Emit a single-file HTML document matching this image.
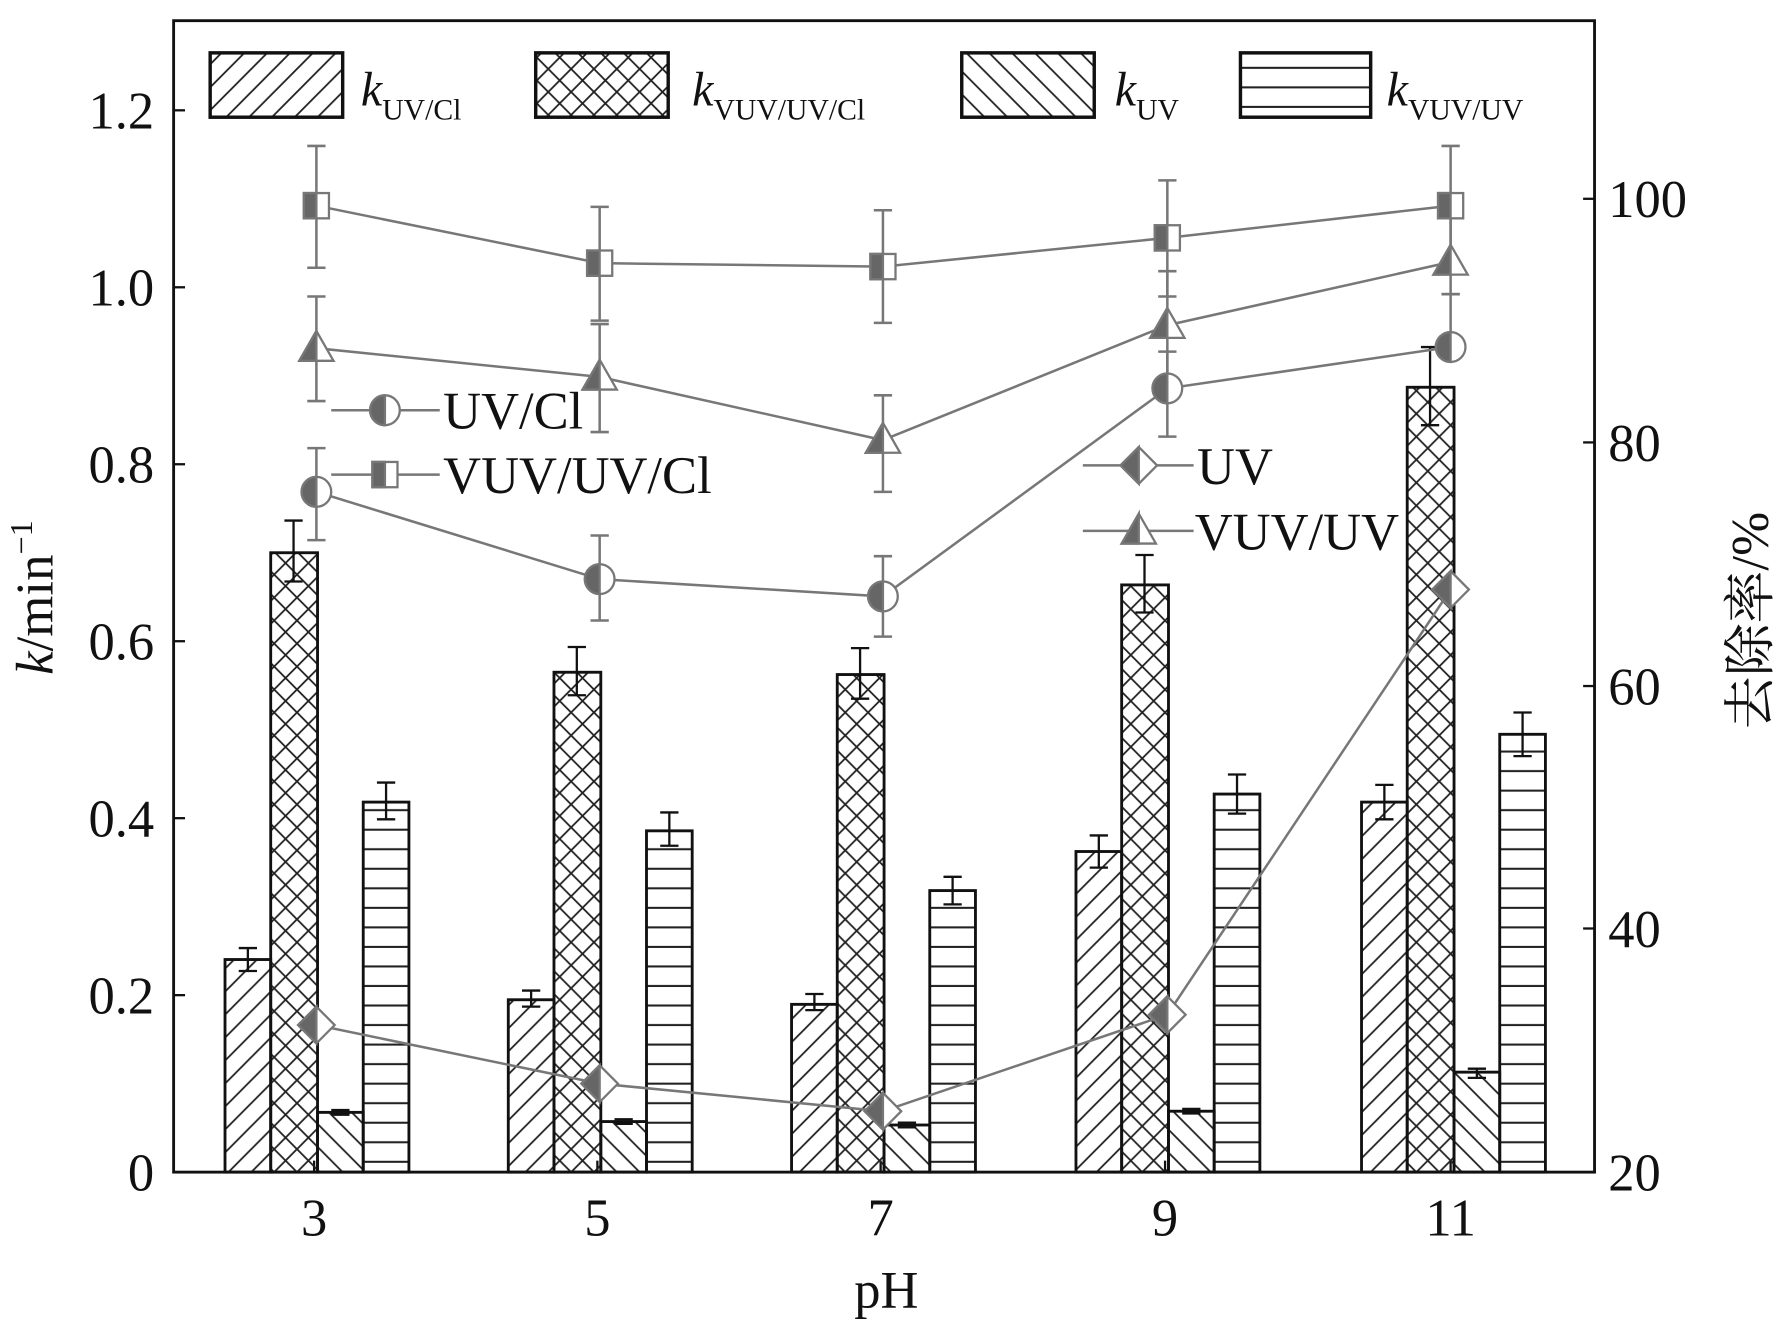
<!DOCTYPE html>
<html><head><meta charset="utf-8"><style>html,body{margin:0;padding:0;background:#fff;overflow:hidden}svg{display:block}</style></head>
<body>
<svg width="1791" height="1333" viewBox="0 0 1568 1160" preserveAspectRatio="none" xmlns="http://www.w3.org/2000/svg" font-family="Liberation Serif, serif">
<defs>
<pattern id="fw" patternUnits="userSpaceOnUse" width="20" height="20"><path d="M-5,25 L25,-5 M-5,5 L5,-5 M15,25 L25,15" stroke="#222" stroke-width="1.6"/></pattern>
<pattern id="bw" patternUnits="userSpaceOnUse" width="20" height="20"><path d="M-5,-5 L25,25 M-5,15 L5,25 M15,-5 L25,5" stroke="#222" stroke-width="1.6"/></pattern>
<pattern id="xx" patternUnits="userSpaceOnUse" width="20" height="20"><path d="M-5,25 L25,-5 M-5,-5 L25,25 M-5,5 L5,-5 M15,25 L25,15 M-5,15 L5,25 M15,-5 L25,5" stroke="#222" stroke-width="1.6"/></pattern>
<pattern id="hz" patternUnits="userSpaceOnUse" width="20" height="17"><path d="M0,8 L20,8" stroke="#222" stroke-width="1.8"/></pattern>
</defs>
<rect x="152" y="18" width="1244" height="1002" fill="none" stroke="#111" stroke-width="2.5"/>
<g stroke="#111" stroke-width="2">
<line x1="152" y1="866" x2="162" y2="866"/><line x1="152" y1="712" x2="162" y2="712"/><line x1="152" y1="558" x2="162" y2="558"/><line x1="152" y1="404" x2="162" y2="404"/><line x1="152" y1="250" x2="162" y2="250"/><line x1="152" y1="96" x2="162" y2="96"/>
<line x1="1386" y1="808" x2="1396" y2="808"/><line x1="1386" y1="597" x2="1396" y2="597"/><line x1="1386" y1="385" x2="1396" y2="385"/><line x1="1386" y1="173" x2="1396" y2="173"/>
<line x1="275" y1="1020" x2="275" y2="1010"/><line x1="523" y1="1020" x2="523" y2="1010"/><line x1="771" y1="1020" x2="771" y2="1010"/><line x1="1020" y1="1020" x2="1020" y2="1010"/><line x1="1270" y1="1020" x2="1270" y2="1010"/>
</g>
<g font-size="46" fill="#111" text-anchor="end">
<text x="135" y="1036">0</text><text x="135" y="882">0.2</text><text x="135" y="728">0.4</text><text x="135" y="574">0.6</text><text x="135" y="420">0.8</text><text x="135" y="266">1.0</text><text x="135" y="112">1.2</text>
</g>
<g font-size="46" fill="#111" text-anchor="start">
<text x="1408" y="1036">20</text><text x="1408" y="824">40</text><text x="1408" y="613">60</text><text x="1408" y="401">80</text><text x="1408" y="189">100</text>
</g>
<g font-size="46" fill="#111" text-anchor="middle">
<text x="275" y="1075">3</text><text x="523" y="1075">5</text><text x="771" y="1075">7</text><text x="1020" y="1075">9</text><text x="1270" y="1075">11</text>
<text x="776" y="1138">pH</text>
</g>
<text transform="translate(46,520) rotate(-90)" font-size="46" text-anchor="middle" fill="#111"><tspan font-style="italic">k</tspan>/min<tspan font-size="28" dy="-18">−1</tspan></text>
<text transform="translate(1548,540) rotate(-90)" font-size="46" text-anchor="middle" fill="#111" font-family="Liberation Serif, Noto Serif CJK SC, serif">去除率/%</text>
<!-- bars -->
<g stroke="#111" stroke-width="2.5">
<rect x="197" y="835" width="40" height="185" fill="url(#fw)"/><rect x="237" y="481" width="41" height="539" fill="url(#xx)"/><rect x="278" y="968" width="40" height="52" fill="url(#bw)"/><rect x="318" y="698" width="40" height="322" fill="url(#hz)"/>
<rect x="445" y="870" width="40" height="150" fill="url(#fw)"/><rect x="485" y="585" width="41" height="435" fill="url(#xx)"/><rect x="526" y="976" width="40" height="44" fill="url(#bw)"/><rect x="566" y="723" width="40" height="297" fill="url(#hz)"/>
<rect x="693" y="874" width="40" height="146" fill="url(#fw)"/><rect x="733" y="587" width="41" height="433" fill="url(#xx)"/><rect x="774" y="979" width="40" height="41" fill="url(#bw)"/><rect x="814" y="775" width="40" height="245" fill="url(#hz)"/>
<rect x="942" y="741" width="40" height="279" fill="url(#fw)"/><rect x="982" y="509" width="41" height="511" fill="url(#xx)"/><rect x="1023" y="967" width="40" height="53" fill="url(#bw)"/><rect x="1063" y="691" width="40" height="329" fill="url(#hz)"/>
<rect x="1192" y="698" width="40" height="322" fill="url(#fw)"/><rect x="1232" y="337" width="41" height="683" fill="url(#xx)"/><rect x="1273" y="933" width="40" height="87" fill="url(#bw)"/><rect x="1313" y="639" width="40" height="381" fill="url(#hz)"/>
</g>
<g stroke="#111" stroke-width="2" fill="none">
<path d="M217,825v20M209,825h16M209,845h16"/><path d="M257,453v53M249,453h16M249,506h16"/><path d="M338,681v32M330,681h16M330,713h16"/><path d="M290,966h16M290,970h16"/>
<path d="M465,862v14M457,862h16M457,876h16"/><path d="M505,563v42M497,563h16M497,605h16"/><path d="M586,707v29M578,707h16M578,736h16"/><path d="M538,974h16M538,978h16"/>
<path d="M713,865v14M705,865h16M705,879h16"/><path d="M753,564v44M745,564h16M745,608h16"/><path d="M834,763v24M826,763h16M826,787h16"/><path d="M786,977h16M786,981h16"/>
<path d="M962,727v28M954,727h16M954,755h16"/><path d="M1002,483v50M994,483h16M994,533h16"/><path d="M1083,674v34M1075,674h16M1075,708h16"/><path d="M1035,965h16M1035,969h16"/>
<path d="M1212,683v30M1204,683h16M1204,713h16"/><path d="M1252,302v68M1244,302h16M1244,370h16"/><path d="M1293,930v8M1285,930h16M1285,938h16"/><path d="M1333,620v38M1325,620h16M1325,658h16"/>
</g>
<!-- lines -->
<g stroke="#777" stroke-width="2.2" fill="none">
<polyline points="277,179 525,229 773,232 1022,207 1270,179"/>
<polyline points="277,303 525,328 773,383 1022,283 1270,228"/>
<polyline points="277,428 525,504 773,519 1022,338 1270,302"/>
<polyline points="277,892 525,943 773,967 1022,883 1270,513"/>
<path d="M277,127v106M269,127h16M269,233h16 M525,180v99M517,180h16M517,279h16 M773,183v98M765,183h16M765,281h16 M1022,157v101M1014,157h16M1014,258h16 M1270,127v105M1262,127h16M1262,232h16"/>
<path d="M277,258v91M269,258h16M269,349h16 M525,282v94M517,282h16M517,376h16 M773,344v84M765,344h16M765,428h16 M1022,236v95M1014,236h16M1014,331h16 M1270,172v84M1262,172h16M1262,256h16"/>
<path d="M277,390v80M269,390h16M269,470h16 M525,466v74M517,466h16M517,540h16 M773,484v70M765,484h16M765,554h16 M1022,306v74M1014,306h16M1014,380h16 M1270,256v50M1262,256h16M1262,306h16"/>
<path d="M290,357h95M290,413h95M948,405h97M948,462h97"/>
</g>
<g stroke="#777" stroke-width="2">
<g transform="translate(277,179)"><rect x="-11" y="-11" width="22" height="22" fill="#fff"/><path d="M-11,-11h11v22h-11z" fill="#666"/></g>
<g transform="translate(525,229)"><rect x="-11" y="-11" width="22" height="22" fill="#fff"/><path d="M-11,-11h11v22h-11z" fill="#666"/></g>
<g transform="translate(773,232)"><rect x="-11" y="-11" width="22" height="22" fill="#fff"/><path d="M-11,-11h11v22h-11z" fill="#666"/></g>
<g transform="translate(1022,207)"><rect x="-11" y="-11" width="22" height="22" fill="#fff"/><path d="M-11,-11h11v22h-11z" fill="#666"/></g>
<g transform="translate(1270,179)"><rect x="-11" y="-11" width="22" height="22" fill="#fff"/><path d="M-11,-11h11v22h-11z" fill="#666"/></g>
<g transform="translate(337,413)"><rect x="-11" y="-11" width="22" height="22" fill="#fff"/><path d="M-11,-11h11v22h-11z" fill="#666"/></g>
<!-- triangles -->
<g transform="translate(277,303)"><path d="M0,-15L15,11H-15Z" fill="#fff"/><path d="M0,-15L-15,11L0,11Z" fill="#666"/></g>
<g transform="translate(525,328)"><path d="M0,-15L15,11H-15Z" fill="#fff"/><path d="M0,-15L-15,11L0,11Z" fill="#666"/></g>
<g transform="translate(773,383)"><path d="M0,-15L15,11H-15Z" fill="#fff"/><path d="M0,-15L-15,11L0,11Z" fill="#666"/></g>
<g transform="translate(1022,283)"><path d="M0,-15L15,11H-15Z" fill="#fff"/><path d="M0,-15L-15,11L0,11Z" fill="#666"/></g>
<g transform="translate(1270,228)"><path d="M0,-15L15,11H-15Z" fill="#fff"/><path d="M0,-15L-15,11L0,11Z" fill="#666"/></g>
<g transform="translate(997,462)"><path d="M0,-15L15,11H-15Z" fill="#fff"/><path d="M0,-15L-15,11L0,11Z" fill="#666"/></g>
<!-- circles -->
<g transform="translate(277,428)"><circle r="13" fill="#fff"/><path d="M0,-13A13,13 0 0 0 0,13Z" fill="#666"/></g>
<g transform="translate(525,504)"><circle r="13" fill="#fff"/><path d="M0,-13A13,13 0 0 0 0,13Z" fill="#666"/></g>
<g transform="translate(773,519)"><circle r="13" fill="#fff"/><path d="M0,-13A13,13 0 0 0 0,13Z" fill="#666"/></g>
<g transform="translate(1022,338)"><circle r="13" fill="#fff"/><path d="M0,-13A13,13 0 0 0 0,13Z" fill="#666"/></g>
<g transform="translate(1270,302)"><circle r="13" fill="#fff"/><path d="M0,-13A13,13 0 0 0 0,13Z" fill="#666"/></g>
<g transform="translate(337,357)"><circle r="13" fill="#fff"/><path d="M0,-13A13,13 0 0 0 0,13Z" fill="#666"/></g>
<!-- diamonds -->
<g transform="translate(277,892)"><path d="M0,-16L16,0L0,16L-16,0Z" fill="#fff"/><path d="M0,-16L-16,0L0,16Z" fill="#666"/></g>
<g transform="translate(525,943)"><path d="M0,-16L16,0L0,16L-16,0Z" fill="#fff"/><path d="M0,-16L-16,0L0,16Z" fill="#666"/></g>
<g transform="translate(773,967)"><path d="M0,-16L16,0L0,16L-16,0Z" fill="#fff"/><path d="M0,-16L-16,0L0,16Z" fill="#666"/></g>
<g transform="translate(1022,883)"><path d="M0,-16L16,0L0,16L-16,0Z" fill="#fff"/><path d="M0,-16L-16,0L0,16Z" fill="#666"/></g>
<g transform="translate(1270,513)"><path d="M0,-16L16,0L0,16L-16,0Z" fill="#fff"/><path d="M0,-16L-16,0L0,16Z" fill="#666"/></g>
<g transform="translate(997,405)"><path d="M0,-16L16,0L0,16L-16,0Z" fill="#fff"/><path d="M0,-16L-16,0L0,16Z" fill="#666"/></g>
</g>
<g font-size="46" fill="#111">
<text x="388" y="373">UV/Cl</text><text x="388" y="429">VUV/UV/Cl</text>
<text x="1048" y="421">UV</text><text x="1046" y="478">VUV/UV</text>
</g>
<!-- top legend -->
<g stroke="#111" stroke-width="3">
<rect x="184" y="46" width="116" height="56" fill="url(#fw)"/>
<rect x="469" y="46" width="116" height="56" fill="url(#xx)"/>
<rect x="842" y="46" width="116" height="56" fill="url(#bw)"/>
<rect x="1086" y="46" width="114" height="56" fill="url(#hz)"/>
</g>
<g font-size="42" fill="#111">
<text x="316" y="92"><tspan font-style="italic">k</tspan><tspan font-size="26" dy="12">UV/Cl</tspan></text>
<text x="606" y="92"><tspan font-style="italic">k</tspan><tspan font-size="26" dy="12">VUV/UV/Cl</tspan></text>
<text x="976" y="92"><tspan font-style="italic">k</tspan><tspan font-size="26" dy="12">UV</tspan></text>
<text x="1214" y="92"><tspan font-style="italic">k</tspan><tspan font-size="26" dy="12">VUV/UV</tspan></text>
</g>
</svg>
</body></html>
